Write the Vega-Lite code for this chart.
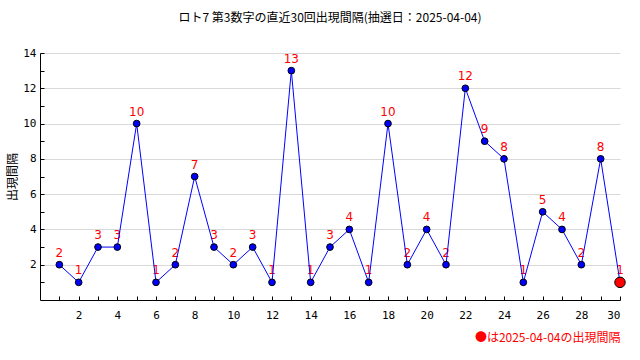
{
  "$schema": "https://vega.github.io/schema/vega-lite/v6.json",
  "autosize": "none",
  "width": 580,
  "height": 247,
  "padding": {"left": 40, "top": 53, "right": 20, "bottom": 60},
  "background": "white",
  "title": {
    "text": "ロト7 第3数字の直近30回出現間隔(抽選日：2025-04-04)",
    "font": "Noto Sans CJK JP",
    "fontSize": 12,
    "fontWeight": "normal",
    "color": "black",
    "anchor": "middle",
    "frame": "group",
    "offset": 22
  },
  "config": {
    "view": {"stroke": null},
    "axis": {
      "labelFont": "DejaVu Sans Mono",
      "labelFontSize": 11,
      "labelColor": "black",
      "domainColor": "black",
      "tickColor": "black",
      "gridColor": "#d9d9d9"
    }
  },
  "data": {
    "values": [
      {"n": 1, "v": 2, "cur": "no"},
      {"n": 2, "v": 1, "cur": "no"},
      {"n": 3, "v": 3, "cur": "no"},
      {"n": 4, "v": 3, "cur": "no"},
      {"n": 5, "v": 10, "cur": "no"},
      {"n": 6, "v": 1, "cur": "no"},
      {"n": 7, "v": 2, "cur": "no"},
      {"n": 8, "v": 7, "cur": "no"},
      {"n": 9, "v": 3, "cur": "no"},
      {"n": 10, "v": 2, "cur": "no"},
      {"n": 11, "v": 3, "cur": "no"},
      {"n": 12, "v": 1, "cur": "no"},
      {"n": 13, "v": 13, "cur": "no"},
      {"n": 14, "v": 1, "cur": "no"},
      {"n": 15, "v": 3, "cur": "no"},
      {"n": 16, "v": 4, "cur": "no"},
      {"n": 17, "v": 1, "cur": "no"},
      {"n": 18, "v": 10, "cur": "no"},
      {"n": 19, "v": 2, "cur": "no"},
      {"n": 20, "v": 4, "cur": "no"},
      {"n": 21, "v": 2, "cur": "no"},
      {"n": 22, "v": 12, "cur": "no"},
      {"n": 23, "v": 9, "cur": "no"},
      {"n": 24, "v": 8, "cur": "no"},
      {"n": 25, "v": 1, "cur": "no"},
      {"n": 26, "v": 5, "cur": "no"},
      {"n": 27, "v": 4, "cur": "no"},
      {"n": 28, "v": 2, "cur": "no"},
      {"n": 29, "v": 8, "cur": "no"},
      {"n": 30, "v": 1, "cur": "yes"}
    ]
  },
  "encoding": {
    "x": {
      "field": "n",
      "type": "quantitative",
      "scale": {"domain": [0, 30], "nice": false, "zero": true},
      "axis": {
        "values": [1,2,3,4,5,6,7,8,9,10,11,12,13,14,15,16,17,18,19,20,21,22,23,24,25,26,27,28,29,30],
        "labelExpr": "datum.value % 2 == 0 ? datum.label : ''",
        "grid": false,
        "tickSize": -4,
        "labelPadding": 13,
        "title": "●は2025-04-04の出現間隔",
        "titleFont": "Noto Sans CJK JP",
        "titleFontSize": 12,
        "titleFontWeight": "normal",
        "titleColor": "red",
        "titleAnchor": "end",
        "titlePadding": 12
      }
    },
    "y": {
      "field": "v",
      "type": "quantitative",
      "scale": {"domain": [0, 14], "nice": false},
      "axis": {
        "values": [1,2,3,4,5,6,7,8,9,10,11,12,13,14],
        "labelExpr": "datum.value % 2 == 0 ? datum.label : ''",
        "grid": true,
        "gridOpacity": {"condition": {"test": "datum.value % 2 == 0", "value": 1}, "value": 0},
        "tickSize": -4,
        "labelPadding": 8,
        "title": "出現間隔",
        "titleFont": "Noto Sans CJK JP",
        "titleFontSize": 12,
        "titleFontWeight": "normal",
        "titleColor": "black",
        "titlePadding": 3
      }
    }
  },
  "layer": [
    {
      "mark": {"type": "text", "color": "red", "dy": -12, "font": "DejaVu Sans", "fontSize": 12},
      "encoding": {"text": {"field": "v", "type": "quantitative"}}
    },
    {"mark": {"type": "line", "color": "blue", "strokeWidth": 1}},
    {
      "mark": {"type": "point", "filled": true, "stroke": "black", "strokeWidth": 1, "opacity": 1},
      "encoding": {
        "color": {"field": "cur", "type": "nominal", "scale": {"domain": ["no", "yes"], "range": ["#0000ff", "#ff0000"]}, "legend": null},
        "size": {"field": "cur", "type": "nominal", "scale": {"domain": ["no", "yes"], "range": [45, 110]}, "legend": null}
      }
    }
  ]
}
